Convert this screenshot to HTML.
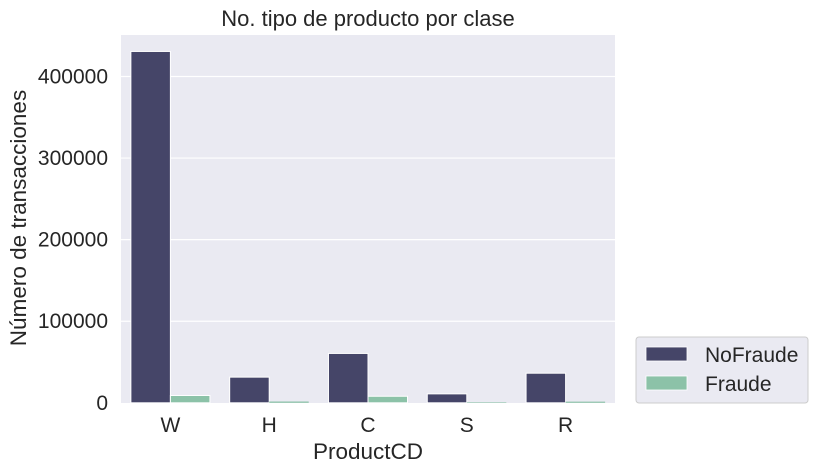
<!DOCTYPE html>
<html><head><meta charset="utf-8"><style>
body{margin:0;background:#fff;}
svg{font-family:"Liberation Sans","DejaVu Sans",sans-serif;display:block;}
</style></head><body>
<svg id="chart" width="817" height="471" viewBox="0 0 817 471">
<rect x="0" y="0" width="817" height="471" fill="#fff"/>
<rect x="121" y="35" width="494" height="368" fill="#eaeaf2"/>
<g id="grid"></g>
<g id="bars"></g>
<g id="yticks"></g>
<g id="xticks"></g>
<text x="368" y="26" text-anchor="middle" font-size="22" fill="#262626">No. tipo de producto por clase</text>
<text x="368" y="459" text-anchor="middle" font-size="22.5" fill="#262626">ProductCD</text>
<text transform="translate(26,218) rotate(-90)" text-anchor="middle" font-size="22.5" fill="#262626">Número de transacciones</text>
<g>
<rect x="636" y="337" width="172" height="66" rx="3" fill="#eaeaf2" stroke="#cccccc" stroke-width="1"/>
<rect x="646" y="347" width="41" height="14" fill="#454568" stroke="#fff" stroke-width="0.8"/>
<text x="705" y="362" font-size="21" fill="#262626">NoFraude</text>
<rect x="646" y="376" width="41" height="14" fill="#8cc2a8" stroke="#fff" stroke-width="0.8"/>
<text x="705" y="391" font-size="21" fill="#262626">Fraude</text>
</g>
</svg>
<script>
const categories = ["W","H","C","S","R"];
const noFraude = [430701, 31450, 60511, 10942, 36273];
const fraude = [8969, 1574, 8008, 686, 1426];
const yTicks = [0, 100000, 200000, 300000, 400000];
const yTickLabels = ["0","100000","200000","300000","400000"];

const NS="http://www.w3.org/2000/svg";
const L=121,R=615,T=35,B=402.8;
function y(v){return B-(v/400000)*(B-76.5);}
const band=(R-L)/categories.length;
function xc(i){return L+band*(i+0.5);}
function mk(tag,attrs,parent){const e=document.createElementNS(NS,tag);for(const k in attrs)e.setAttribute(k,attrs[k]);document.getElementById(parent).appendChild(e);return e;}

yTicks.forEach((t,i)=>{
  if(t>0){
    const g=mk('line',{x1:L,x2:R,y1:y(t),y2:y(t),stroke:'#fff','stroke-width':1.2},'grid');
    
    
  }
  const tx=mk('text',{x:L-13,y:y(t)+7,'text-anchor':'end','font-size':21,fill:'#262626'},'yticks');
  tx.textContent=yTickLabels[i];
  
  
});
const bw=band*0.4;
categories.forEach((c,i)=>{
  const a=mk('rect',{x:xc(i)-bw,y:y(noFraude[i]),width:bw,height:B-y(noFraude[i]),fill:'#454568',stroke:'#fff','stroke-width':1},'bars');
  
  
  const h=B-y(fraude[i]);
  const b=mk('rect',{x:xc(i),y:y(fraude[i]),width:bw,height:h,fill:'#8cc2a8',stroke:h>3?'#fff':'none','stroke-width':1},'bars');
  
  
  const t=mk('text',{x:xc(i),y:432,'text-anchor':'middle','font-size':21,fill:'#262626'},'xticks');
  t.textContent=c;
  
  
});
</script>
</body></html>
